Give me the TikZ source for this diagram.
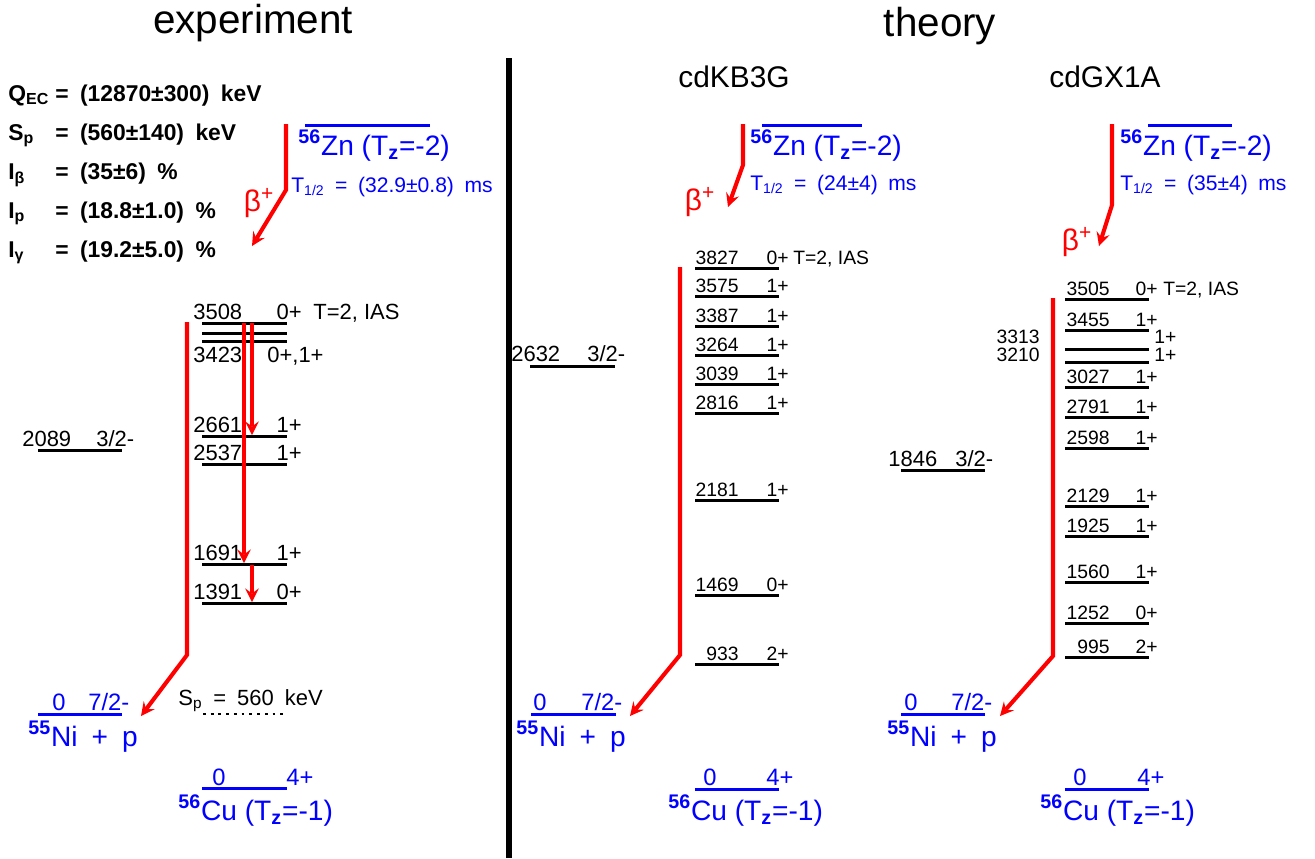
\documentclass[tikz,border=0pt]{standalone}
\usepackage{fontspec}
\setmainfont{Liberation Sans}
\usetikzlibrary{arrows, positioning, calc}
\definecolor{schemeblue}{RGB}{0,0,255}
\definecolor{schemered}{RGB}{255,0,0}
\tikzset{
  lvl/.style={line width=1.7pt},
  gslvl/.style={line width=1.7pt, draw=schemeblue},
  decay/.style={line width=2.3pt, color=schemered, ->, >=stealth},
  explab/.style={inner sep=0pt, font=\fontsize{12.5}{14}\selectfont},
  thlab/.style={inner sep=0pt, font=\fontsize{11}{13}\selectfont},
  gslab/.style={inner sep=0pt, anchor=base west, text=schemeblue, font=\fontsize{13.5}{15}\selectfont},
  nuclab/.style={inner sep=0pt, anchor=base west, text=schemeblue, font=\fontsize{16}{18}\selectfont},
  halflab/.style={inner sep=0pt, anchor=base west, text=schemeblue, font=\fontsize{12}{14}\selectfont},
  betalab/.style={inner sep=0pt, text=schemered, font=\fontsize{17}{19}\selectfont},
  infolab/.style={inner sep=0pt, anchor=base west, font=\bfseries\fontsize{13}{15}\selectfont},
  paneltitle/.style={inner sep=0pt, anchor=base, font=\fontsize{23}{26}\selectfont},
  modeltitle/.style={inner sep=0pt, anchor=base, font=\fontsize{17}{19}\selectfont}
}
\newcommand{\nuc}[2]{\textsuperscript{\bfseries #1}#2}
\newcommand{\tz}[1]{(T\textsubscript{\bfseries z}=#1)}

\begin{document}
\begin{tikzpicture}[x=0.2mm, y=-0.2mm]
  \useasboundingbox (0,0) rectangle (1315,858);

  % titles and divider
  \node[paneltitle] (ttlexp) at (253,33) {experiment};
  \node[paneltitle] (ttlth) at (940,36) {theory};
  \node[modeltitle] (ttlkb) at (734,87) {cdKB3G};
  \node[modeltitle] (ttlgx) at (1105,87) {cdGX1A};
  \coordinate (divtop) at (509,58);
  \coordinate (divbot) at (509,858);
  \draw[line width=3.4pt] (divtop) -- (divbot);

  % decay data
  \foreach \q/\v [count=\i] in {Q\textsubscript{EC}/{(12870±300)\enspace keV},
      S\textsubscript{p}/{(560±140)\enspace keV}, I\textsubscript{β}/{(35±6)\enspace\%},
      I\textsubscript{p}/{(18.8±1.0)\enspace\%}, I\textsubscript{γ}/{(19.2±5.0)\enspace\%}} {
    \node[infolab] (dq\i) at (8,{62+39*\i}) {\q};
    \node[infolab] (dv\i) at (55,{62+39*\i}) {=\enspace\v};
  }

  % ---- experiment ----
  \draw[gslvl] (305,125) -- (430,125);
  \node[nuclab] (exzn) at (298,155) {\nuc{56}{Zn} \tz{-2}};
  \node[halflab] (exhalf) at (291,192) {T\textsubscript{1/2}\enspace=\enspace(32.9±0.8)\enspace ms};
  \coordinate (exb0) at (286,124);
  \coordinate (exb1) at (286,190);
  \coordinate (exb2) at (252,246);
  \draw[decay] (exb0) -- (exb1) -- (exb2);
  \node[betalab] (exbeta) at (259,203) {β\textsuperscript{+}};

  \foreach \y in {323,333,341}
    \draw[lvl] (202,\y) -- (287,\y);
  \node[explab, anchor=base west] (ex3508) at (193,319) {3508};
  \node[explab, anchor=base east] (ex3508j) at (302,319) {0+};
  \node[explab, anchor=base west] (exias) at (313,319) {T=2, IAS};
  \node[explab, anchor=base west] (ex3423) at (193,362) {3423};
  \node[explab, anchor=base west] (ex3423j) at (267,362) {0+,1+};
  \foreach \y/\e/\j in {436/2661/1+, 464/2537/1+, 564/1691/1+, 603/1391/0+} {
    \draw[lvl] (202,\y) -- (287,\y);
    \node[explab, anchor=base west] (ex\e) at (193,{\y-4}) {\e};
    \node[explab, anchor=base east] (ex\e j) at (302,{\y-4}) {\j};
  }
  \draw[lvl] (38,450) -- (122,450);
  \node[explab, anchor=base west] (ex2089) at (22,446) {2089};
  \node[explab, anchor=base west] (ex2089j) at (96,446) {3/2-};

  \coordinate (exg1a) at (244,323);
  \coordinate (exg1b) at (244,563);
  \coordinate (exg2a) at (252,323);
  \coordinate (exg2b) at (252,435);
  \coordinate (exg3a) at (252,565);
  \coordinate (exg3b) at (252,602);
  \draw[decay] (exg1a) -- (exg1b);
  \draw[decay] (exg2a) -- (exg2b);
  \draw[decay] (exg3a) -- (exg3b);

  \coordinate (exp0) at (187,322);
  \coordinate (exp1) at (187,655);
  \coordinate (exp2) at (141,716);
  \draw[decay] (exp0) -- (exp1) -- (exp2);

  \draw[gslvl] (38,714) -- (122,714);
  \node[gslab] (exni0) at (52,710) {0};
  \node[gslab] (exnij) at (88,710) {7/2-};
  \node[nuclab] (exni) at (28,746) {\nuc{55}{Ni}\enspace+\enspace p};
  \node[explab, anchor=base west] (exsp) at (178,705) {S\textsubscript{p}\enspace=\enspace560\enspace keV};
  \coordinate (exspa) at (203,714);
  \coordinate (exspb) at (287,714);
  \draw[line width=1.6pt, dash pattern=on 1.6pt off 2.8pt] (exspa) -- (exspb);

  \draw[gslvl] (202,788) -- (287,788);
  \node[gslab] (excu0) at (212,785) {0};
  \node[gslab] (excuj) at (286,785) {4+};
  \node[nuclab] (excu) at (178,820) {\nuc{56}{Cu} \tz{-1}};

  % ---- theory: cdKB3G ----
  \draw[gslvl] (762,125) -- (862,125);
  \node[nuclab] (kbzn) at (750,155) {\nuc{56}{Zn} \tz{-2}};
  \node[halflab] (kbhalf) at (750,190) {T\textsubscript{1/2}\enspace=\enspace(24±4)\enspace ms};
  \coordinate (kbb0) at (743,124);
  \coordinate (kbb1) at (743,165);
  \coordinate (kbb2) at (728,207);
  \draw[decay] (kbb0) -- (kbb1) -- (kbb2);
  \node[betalab] (kbbeta) at (700,202) {β\textsuperscript{+}};

  \foreach \y/\e/\j in {268/3827/0+, 296/3575/1+, 326/3387/1+, 355/3264/1+, 384/3039/1+,
      413/2816/1+, 500/2181/1+, 595/1469/0+, 664/933/2+} {
    \draw[lvl] (695,\y) -- (779,\y);
    \node[thlab, anchor=base east] (kb\e) at (739,{\y-4}) {\e};
    \node[thlab, anchor=base east] (kb\e j) at (789,{\y-4}) {\j};
  }
  \node[thlab, anchor=base west] (kbias) at (793,264) {T=2, IAS};
  \draw[lvl] (530,366) -- (615,366);
  \node[explab, anchor=base west] (kb2632) at (511,361) {2632};
  \node[explab, anchor=base west] (kb2632j) at (587,361) {3/2-};

  \coordinate (kbp0) at (680,267);
  \coordinate (kbp1) at (680,655);
  \coordinate (kbp2) at (630,716);
  \draw[decay] (kbp0) -- (kbp1) -- (kbp2);

  \draw[gslvl] (531,714) -- (616,714);
  \node[gslab] (kbni0) at (533,710) {0};
  \node[gslab] (kbnij) at (581,710) {7/2-};
  \node[nuclab] (kbni) at (516,746) {\nuc{55}{Ni}\enspace+\enspace p};
  \draw[gslvl] (695,789) -- (779,789);
  \node[gslab] (kbcu0) at (703,785) {0};
  \node[gslab] (kbcuj) at (766,785) {4+};
  \node[nuclab] (kbcu) at (668,820) {\nuc{56}{Cu} \tz{-1}};

  % ---- theory: cdGX1A ----
  \draw[gslvl] (1148,125) -- (1232,125);
  \node[nuclab] (gxzn) at (1120,155) {\nuc{56}{Zn} \tz{-2}};
  \node[halflab] (gxhalf) at (1120,190) {T\textsubscript{1/2}\enspace=\enspace(35±4)\enspace ms};
  \coordinate (gxb0) at (1112,124);
  \coordinate (gxb1) at (1112,205);
  \coordinate (gxb2) at (1099,246);
  \draw[decay] (gxb0) -- (gxb1) -- (gxb2);
  \node[betalab] (gxbeta) at (1077,242) {β\textsuperscript{+}};

  \foreach \y/\e/\j in {299/3505/0+, 330/3455/1+, 387/3027/1+, 417/2791/1+, 448/2598/1+,
      506/2129/1+, 536/1925/1+, 582/1560/1+, 623/1252/0+, 657/995/2+} {
    \draw[lvl] (1065,\y) -- (1149,\y);
    \node[thlab, anchor=base east] (gx\e) at (1110,{\y-4}) {\e};
    \node[thlab, anchor=base east] (gx\e j) at (1158,{\y-4}) {\j};
  }
  \node[thlab, anchor=base west] (gxias) at (1163,295) {T=2, IAS};
  \foreach \y/\e/\t in {349/3313/343, 362/3210/361} {
    \draw[lvl] (1065,\y) -- (1149,\y);
    \node[thlab, anchor=base east] (gx\e) at (1040,\t) {\e};
    \node[thlab, anchor=base west] (gx\e j) at (1154,\t) {1+};
  }
  \draw[lvl] (901,470) -- (985,470);
  \node[explab, anchor=base west] (gx1846) at (888,466) {1846};
  \node[explab, anchor=base west] (gx1846j) at (955,466) {3/2-};

  \coordinate (gxp0) at (1053,298);
  \coordinate (gxp1) at (1053,656);
  \coordinate (gxp2) at (1000,716);
  \draw[decay] (gxp0) -- (gxp1) -- (gxp2);

  \draw[gslvl] (901,714) -- (985,714);
  \node[gslab] (gxni0) at (904,710) {0};
  \node[gslab] (gxnij) at (951,710) {7/2-};
  \node[nuclab] (gxni) at (887,746) {\nuc{55}{Ni}\enspace+\enspace p};
  \draw[gslvl] (1065,789) -- (1149,789);
  \node[gslab] (gxcu0) at (1073,785) {0};
  \node[gslab] (gxcuj) at (1137,785) {4+};
  \node[nuclab] (gxcu) at (1040,820) {\nuc{56}{Cu} \tz{-1}};
\end{tikzpicture}
\end{document}
